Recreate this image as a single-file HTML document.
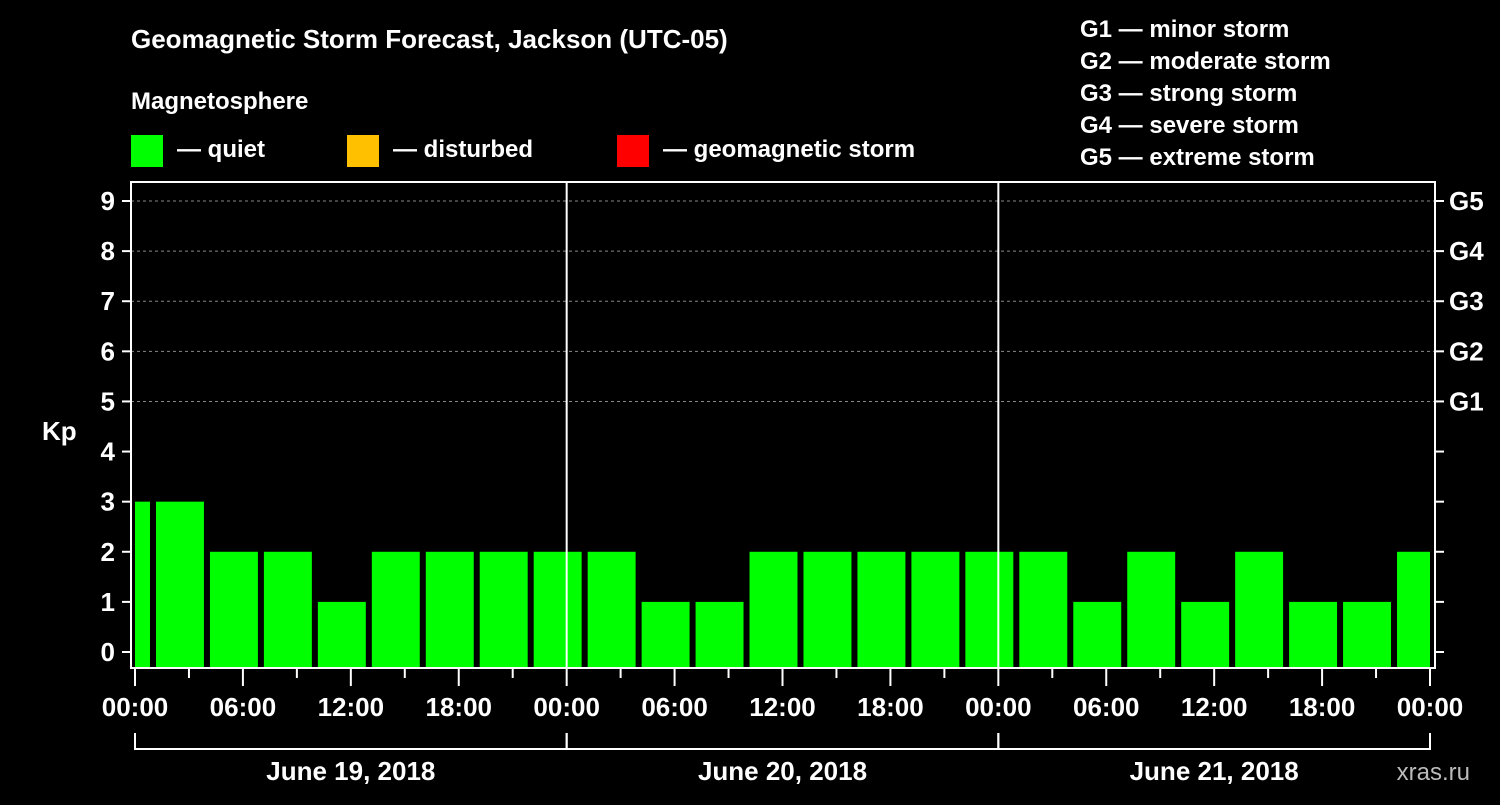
<!DOCTYPE html>
<html><head><meta charset="utf-8"><style>
body{margin:0;background:#000;width:1500px;height:800px;overflow:hidden}
svg text{font-family:"Liberation Sans",Arial,sans-serif;font-weight:bold;fill:#fff}
</style></head><body>
<svg id="c" width="1500" height="800" xmlns="http://www.w3.org/2000/svg">
<rect width="1500" height="800" fill="#000"/>
<text x="131" y="48" font-size="26">Geomagnetic Storm Forecast, Jackson (UTC-05)</text>
<text x="131" y="109" font-size="24">Magnetosphere</text>
<rect x="131" y="135" width="32" height="32" fill="#00ff00"/>
<text x="177" y="157" font-size="24">— quiet</text>
<rect x="347" y="135" width="32" height="32" fill="#ffc000"/>
<text x="393" y="157" font-size="24">— disturbed</text>
<rect x="617" y="135" width="32" height="32" fill="#ff0000"/>
<text x="663" y="157" font-size="24">— geomagnetic storm</text>
<g font-size="24">
<text x="1080" y="37">G1 — minor storm</text>
<text x="1080" y="69">G2 — moderate storm</text>
<text x="1080" y="101">G3 — strong storm</text>
<text x="1080" y="133">G4 — severe storm</text>
<text x="1080" y="165">G5 — extreme storm</text>
</g>
<text x="42" y="440" font-size="26">Kp</text>
<text x="1470" y="780" font-size="24" fill="#bbb" style="fill:#bbb;font-weight:normal" text-anchor="end">xras.ru</text>
<g id="grid"></g><g id="bars"></g><g id="axes"></g>
</svg>
<script>
const kpValues=[3,3,2,2,1,2,2,2,2,2,1,1,2,2,2,2,2,2,1,2,1,2,1,1,2];
const barStartHours=[-2,1,4,7,10,13,16,19,22,25,28,31,34,37,40,43,46,49,52,55,58,61,64,67,70];
const yTicks=[0,1,2,3,4,5,6,7,8,9];
const gLabels=[[5,"G1"],[6,"G2"],[7,"G3"],[8,"G4"],[9,"G5"]];
const xTickLabels=["00:00","06:00","12:00","18:00","00:00","06:00","12:00","18:00","00:00","06:00","12:00","18:00","00:00"];
const dayLabels=["June 19, 2018","June 20, 2018","June 21, 2018"];
const NS="http://www.w3.org/2000/svg";
const L=131,R=1435,T=182,B=668,X0=135,X1=1430,H=72;
const x=h=>X0+(X1-X0)*h/H;
const y=v=>652-(v)*(652-201)/9;
function mk(p,tag,at){const e=document.createElementNS(NS,tag);for(const k in at)e.setAttribute(k,at[k]);document.getElementById(p).appendChild(e);return e;}
yTicks.forEach(v=>{
 if(v>=5){const g=mk('grid','line',{x1:L,x2:R,y1:y(v),y2:y(v),stroke:'#888','stroke-dasharray':'3,3','stroke-width':1});
 
 }
 const t=mk('axes','line',{x1:L-9,x2:L,y1:y(v),y2:y(v),stroke:'#fff','stroke-width':2});
 
 
 const t2=mk('axes','line',{x1:R,x2:R+9,y1:y(v),y2:y(v),stroke:'#fff','stroke-width':2});
 
 
 const l=mk('axes','text',{x:115,y:y(v)+9,'font-size':26,'text-anchor':'end'});l.textContent=v;
 
 
});
gLabels.forEach(([v,s])=>{const l=mk('axes','text',{x:1449,y:y(v)+9,'font-size':26});l.textContent=s;
 
 });
kpValues.forEach((v,i)=>{
 const h0=barStartHours[i];let a=x(h0)+3,b=x(h0+3)-3;a=Math.max(a,X0);b=Math.min(b,X1);
 const c=v>=5?'#ff0000':(v>=4?'#ffc000':'#00ff00');
 const r=mk('bars','rect',{x:a,y:y(v),width:b-a,height:667-y(v),fill:c});
 
 
});
[1,2].forEach(d=>{const l=mk('axes','line',{x1:x(d*24),x2:x(d*24),y1:T,y2:B,stroke:'#fff','stroke-width':2});
 
 });
const box=mk('axes','rect',{x:L,y:T,width:R-L,height:B-T,fill:'none',stroke:'#fff','stroke-width':2});


for(let h=0;h<=H;h+=3){const maj=h%6===0;
 const t=mk('axes','line',{x1:x(h),x2:x(h),y1:B,y2:B+(maj?18:10),stroke:'#fff','stroke-width':2});
 
 }
xTickLabels.forEach((s,i)=>{const l=mk('axes','text',{x:x(i*6),y:716,'font-size':26,'text-anchor':'middle'});l.textContent=s;
 
 });
dayLabels.forEach((s,i)=>{
 const p=mk('axes','path',{d:`M${x(i*24)},733V749H${x(i*24+24)}V733`,fill:'none',stroke:'#fff','stroke-width':2});
 
 
 const l=mk('axes','text',{x:x(i*24+12),y:780,'font-size':26,'text-anchor':'middle'});l.textContent=s;
 
 });
</script>
</body></html>
